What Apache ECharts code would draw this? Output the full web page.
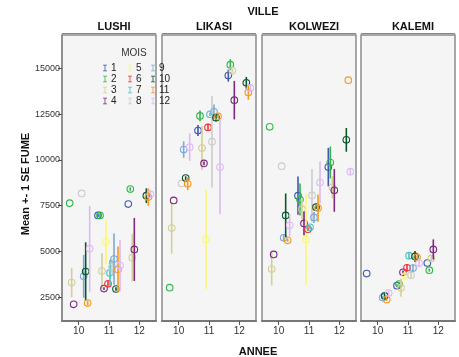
<!DOCTYPE html>
<html><head><meta charset="utf-8">
<script src="https://cdn.jsdelivr.net/npm/echarts@6/dist/echarts.min.js"></script>
<style>html,body{margin:0;padding:0;background:#fff}#c{width:459px;height:357px}</style>
</head><body><div id="c"></div>
<script>
const cities = ['LUSHI', 'LIKASI', 'KOLWEZI', 'KALEMI'];
const months = ['1','2','3','4','5','6','7','8','9','10','11','12'];
const yearTicks = [10, 11, 12];
const valueTicks = [2500, 5000, 7500, 10000, 12500, 15000];
const monthColors = ['#3E58AC','#2EB848','#D3CE97','#7C287D','#FBF873','#EF3338','#48C2C5','#CCCCCC','#7AAAD5','#0A562C','#F8981D','#DDBAF1'];
// [ANNEE, MOIS, mean, SE]
const lushi = [[10,2,7630,0],[10,3,3290,800],[10,4,2100,0],[10,8,8160,0],[10,9,3630,1170],[10,10,3890,1600],[10,11,2170,120],[10,12,5140,2350],
  [11,1,6960,100],[11,2,6960,100],[11,3,3920,970],[11,4,2960,80],[11,5,5520,1230],[11,6,3220,150],[11,7,3820,700],[11,8,4140,450],[11,9,4575,1400],[11,10,2940,100],[11,11,4010,1250],[11,12,4220,1400],
  [12,1,7580,0],[12,2,8400,100],[12,3,4650,1300],[12,4,5100,1720],[12,10,8040,400],[12,11,7960,480],[12,12,8120,200]];
const likasi = [[10,2,3010,0],[10,3,6270,1400],[10,4,7780,0],[10,8,8710,0],[10,9,10560,450],[10,10,9000,100],[10,11,8690,350],[10,12,10690,750],
  [11,1,11600,300],[11,2,12400,300],[11,3,10640,1200],[11,4,9800,100],[11,5,5650,2710],[11,6,11770,200],[11,7,12490,100],[11,8,10990,2500],[11,9,12620,400],[11,10,12300,200],[11,11,12370,100],[11,12,9600,2570],
  [12,1,14600,330],[12,2,15200,300],[12,3,14860,100],[12,4,13260,1050],[12,10,14210,320],[12,11,13680,400],[12,12,13930,200]];
const kolwezi = [[10,2,11800,0],[10,3,4030,900],[10,4,4830,0],[10,8,9650,0],[10,9,5740,200],[10,10,6960,1200],[10,11,5600,80],[10,12,6420,600],
  [11,1,8040,1050],[11,2,7830,870],[11,3,7300,550],[11,4,6520,650],[11,5,5650,2500],[11,6,6210,100],[11,7,6310,100],[11,8,8050,1450],[11,9,6850,300],[11,10,7410,100],[11,11,7360,750],[11,12,8760,1150],
  [12,1,9600,1050],[12,2,9850,870],[12,3,8500,600],[12,4,8330,1170],[12,10,11090,650],[12,11,14350,0],[12,12,9350,200]];
const kalemi = [[10,1,3780,0],[10,9,2470,100],[10,10,2560,150],[10,11,2360,80],[10,12,2720,150],
  [11,1,3120,60],[11,2,3210,100],[11,3,3010,500],[11,4,3850,100],[11,5,3650,200],[11,6,4100,200],[11,7,4760,200],[11,8,3690,200],[11,9,4080,200],[11,10,4720,300],[11,11,4670,100],[11,12,4340,150],
  [12,1,4360,0],[12,2,3970,80],[12,3,4610,150],[12,4,5100,550]];
const cityData = [lushi, likasi, kolwezi, kalemi];

const FONT = 'Liberation Sans, Arial, sans-serif';
const JIT = 0.066;
const gridLefts = [62, 162, 262, 361];
const GW = 94, GT = 35, GH = 286;

const grids = [], xAxes = [], yAxes = [], series = [];
cities.forEach((c, i) => {
  grids.push({left: gridLefts[i], top: GT, width: GW, height: GH, show: true,
    backgroundColor: '#f5f5f5', borderColor: '#8c8c8c', borderWidth: 1.5});
  xAxes.push({type: 'value', gridIndex: i, min: 9.45, max: 12.55,
    splitLine: {show: false},
    axisLine: {show: true, onZero: false, lineStyle: {color: '#777', width: 2}},
    axisTick: {show: true, customValues: yearTicks, length: 4, lineStyle: {color: '#555'}},
    axisLabel: {show: true, customValues: yearTicks, margin: 5, fontSize: 10, color: '#333', fontFamily: FONT,
      formatter: v => String(v)}});
  yAxes.push({type: 'value', gridIndex: i, min: 1190, max: 16820,
    splitLine: {show: false},
    axisLine: {show: i === 0, lineStyle: {color: '#888', width: 1.5}},
    axisTick: {show: i === 0, customValues: valueTicks, length: 4, lineStyle: {color: '#555'}},
    axisLabel: {show: i === 0, customValues: valueTicks, margin: 2, fontSize: 9, color: '#333', fontFamily: FONT,
      formatter: v => String(v)}});
  months.forEach((m, k) => {
    const d = cityData[i].filter(r => r[1] === k + 1);
    series.push({
      type: 'custom', name: m, xAxisIndex: i, yAxisIndex: i,
      itemStyle: {color: monthColors[k]},
      data: d,
      renderItem: function (params, api) {
        const x = api.value(0) + (api.value(1) - 6.5) * JIT;
        const mean = api.value(2), se = api.value(3);
        const p = api.coord([x, mean]);
        const hi = api.coord([x, mean + se]);
        const lo = api.coord([x, mean - se]);
        const col = api.visual('color');
        const children = [];
        if (se > 0) children.push({type: 'line', shape: {x1: p[0], y1: hi[1], x2: p[0], y2: lo[1]}, style: {stroke: col, lineWidth: 1.6}});
        children.push({type: 'circle', shape: {cx: p[0], cy: p[1], r: 3.3}, style: {stroke: col, fill: 'none', lineWidth: 1.1}});
        return {type: 'group', children};
      }
    });
  });
});

const IBEAM = 'path://M0,0H6V1.2H3.6V8.8H6V10H0V8.8H2.4V1.2H0Z';
function legendCol(names, left) {
  return {data: names, orient: 'vertical', left: left, top: 63, itemWidth: 4, itemHeight: 9, itemGap: 1,
    icon: IBEAM, padding: 0, selectedMode: false,
    textStyle: {fontSize: 10, color: '#222', fontFamily: FONT, padding: [0, 0, 0, -1], lineHeight: 10}};
}

const titles = [{text: 'VILLE', left: 258, top: 1, textAlign: 'center', textStyle: {fontSize: 11, fontWeight: 'bold', color: '#111', fontFamily: FONT}}];
cities.forEach((c, i) => titles.push({text: c, left: gridLefts[i] + GW / 2, top: 16, textAlign: 'center',
  textStyle: {fontSize: 11, fontWeight: 'bold', color: '#111', fontFamily: FONT}}));

const graphics = [];
cities.forEach((c, i) => graphics.push({type: 'line', shape: {x1: gridLefts[i], y1: 33.5, x2: gridLefts[i] + GW, y2: 33.5}, style: {stroke: '#888', lineWidth: 1}}));
graphics.push({type: 'text', x: 26, y: 184, rotation: Math.PI / 2, style: {text: 'Mean +- 1 SE FUME', fontSize: 11, fontWeight: 'bold', fill: '#111', fontFamily: FONT, align: 'center', verticalAlign: 'middle'}});
graphics.push({type: 'text', x: 258, y: 352, style: {text: 'ANNEE', fontSize: 11, fontWeight: 'bold', fill: '#111', fontFamily: FONT, align: 'center', verticalAlign: 'middle'}});
graphics.push({type: 'text', x: 134, y: 53, z: 100, style: {text: 'MOIS', fontSize: 10, fill: '#333', fontFamily: FONT, align: 'center', verticalAlign: 'middle'}});

const chart = echarts.init(document.getElementById('c'), null, {renderer: 'canvas'});
chart.setOption({
  animation: false,
  title: titles,
  grid: grids, xAxis: xAxes, yAxis: yAxes, series: series,
  legend: [legendCol(months.slice(0, 4), 103), legendCol(months.slice(4, 8), 128), legendCol(months.slice(8, 12), 151)],
  graphic: graphics
});
</script></body></html>
